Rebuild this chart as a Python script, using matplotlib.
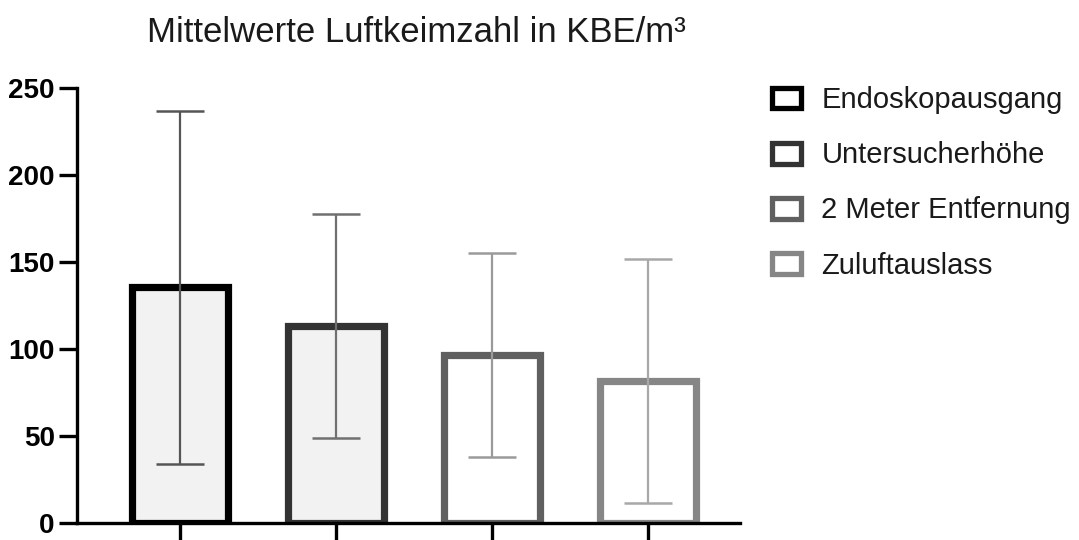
import numpy as np
import matplotlib
matplotlib.use("Agg")
import matplotlib.pyplot as plt
from matplotlib.patches import Patch

plt.rcParams["font.family"] = ["Liberation Sans", "DejaVu Sans"]

# mean and standard deviation of the airborne germ counts per sampling spot
locations = ["Endoskopausgang", "Untersucherhöhe", "2 Meter Entfernung", "Zuluftauslass"]
means = [135.5, 113.4, 96.6, 81.4]
sds = [101.5, 64.4, 58.7, 70.1]

edge_colors = ["#000000", "#333333", "#606060", "#868686"]
fill_colors = ["#f2f2f2", "#f2f2f2", "#ffffff", "#ffffff"]
err_colors = ["#555555", "#707070", "#9a9a9a", "#a8a8a8"]

fig = plt.figure(figsize=(10.79, 5.40), dpi=100)
ax = fig.add_axes([0.0714, 0.0315, 0.6145, 0.8055])

x = np.arange(len(locations))
for i in range(len(locations)):
    ax.bar(x[i], means[i], width=0.62, color=fill_colors[i], edgecolor=edge_colors[i],
           linewidth=5.2, joinstyle="miter", zorder=2)
    ax.errorbar(x[i], means[i], yerr=sds[i], fmt="none", ecolor=err_colors[i],
                elinewidth=1.6, capsize=17, capthick=1.8, zorder=3)

ax.set_xlim(-0.66, 3.59)
ax.set_ylim(0, 250)
ax.set_yticks([0, 50, 100, 150, 200, 250])
ax.set_xticks(x)
ax.set_xticklabels([])
for side in ("top", "right"):
    ax.spines[side].set_visible(False)
for side in ("left", "bottom"):
    ax.spines[side].set_linewidth(2.4)
ax.tick_params(axis="y", length=13, width=2.4, labelsize=20, pad=3)
ax.tick_params(axis="x", length=14, width=2.4)
for lbl in ax.get_yticklabels():
    lbl.set_fontweight("bold")

fig.text(0.386, 0.94, "Mittelwerte Luftkeimzahl in KBE/m³", ha="center", va="center",
         fontsize=25, color="#1a1a1a")

handles = [Patch(facecolor="white", edgecolor=edge_colors[i], linewidth=3.8) for i in range(len(locations))]
fig.legend(handles, locations, loc="upper left", bbox_to_anchor=(0.691, 0.889), frameon=False,
           fontsize=21, handlelength=1.0, handleheight=0.72, handletextpad=0.7,
           labelspacing=0.93, labelcolor="#1a1a1a")

fig.savefig("out.png", dpi=100)
